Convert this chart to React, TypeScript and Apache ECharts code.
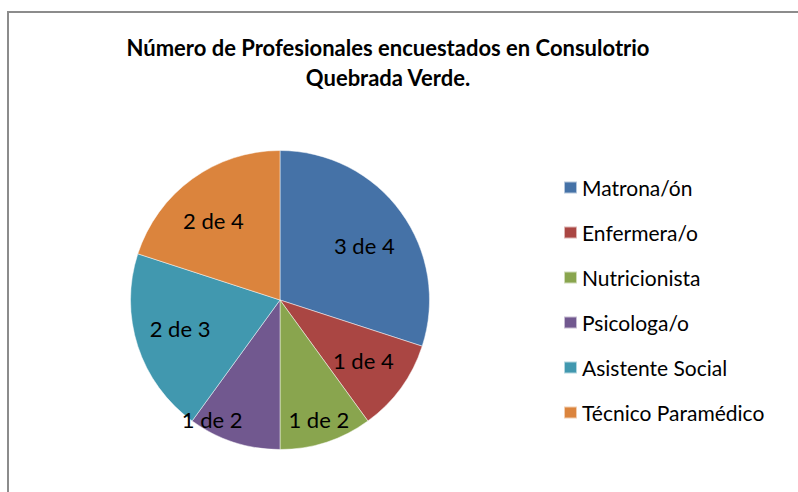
import React, { useEffect, useRef } from "react";
import * as echarts from "echarts";

const titleLines = ["Número de Profesionales encuestados en Consulotrio", "Quebrada Verde."];
const categories = ["Matrona/ón", "Enfermera/o", "Nutricionista", "Psicologa/o", "Asistente Social", "Técnico Paramédico"];
const encuestados = [3, 1, 1, 1, 2, 2];
const totales = [4, 4, 2, 2, 3, 4];
const colors = ["#4572A7", "#AA4643", "#89A54E", "#71588F", "#4198AF", "#DB843D"];

export default function App() {
  const ref = useRef<HTMLDivElement>(null);
  useEffect(() => {
    if (!ref.current) return;
    const chart = echarts.init(ref.current, null, { renderer: "svg" });
    const data = categories.map((name, i) => ({
      name,
      value: encuestados[i],
      itemStyle: { color: colors[i] },
    }));
    const labelData = categories.map((name, i) => ({
      name,
      value: encuestados[i],
      label: { formatter: `${encuestados[i]} de ${totales[i]}` },
    }));
    const labelShift: Record<number, { dx: number; dy: number }> = {
      0: { dx: 1, dy: 6 },
      2: { dx: 7, dy: 22 },
      3: { dx: -36, dy: 22 },
      4: { dx: -2, dy: -3 },
      5: { dx: -6, dy: 4 },
    };
    chart.setOption({
      animation: false,
      backgroundColor: "#ffffff",
      title: {
        text: titleLines.join("\n"),
        left: 383,
        top: 27,
        textAlign: "center",
        textStyle: {
          fontFamily: "Lato",
          fontWeight: "bold",
          fontSize: 22,
          lineHeight: 30,
          color: "#000",
        },
      },
      legend: {
        orient: "vertical",
        left: 558,
        top: 172,
        itemWidth: 13,
        itemHeight: 12,
        itemGap: 24,
        icon: "rect",
        data: categories,
        textStyle: { fontFamily: "Lato", fontSize: 21, lineHeight: 21, color: "#000" },
      },
      graphic: [
        {
          type: "polyline",
          shape: { points: [[8, 492], [8, 12], [798, 12]] },
          style: { stroke: "#8c8c8c", lineWidth: 2, fill: "none" },
          silent: true,
        },
      ],
      series: [
        {
          type: "pie",
          center: [280, 300],
          radius: [0, 149.5],
          startAngle: 90,
          clockwise: true,
          label: { show: false },
          labelLine: { show: false },
          itemStyle: { borderColor: "rgba(255,255,255,0.6)", borderWidth: 0.8 },
          emphasis: { disabled: true },
          data,
        },
        {
          type: "pie",
          center: [280, 300],
          radius: [0, 200],
          startAngle: 90,
          clockwise: true,
          silent: true,
          legendHoverLink: false,
          itemStyle: { color: "rgba(0,0,0,0)" },
          label: {
            show: true,
            position: "inside",
            fontFamily: "Lato",
            fontSize: 22,
            color: "#000",
          },
          labelLine: { show: false },
          labelLayout: (params: any) => labelShift[params.dataIndex] || {},
          emphasis: { disabled: true },
          data: labelData,
        },
      ],
    });
    return () => chart.dispose();
  }, []);
  return (
    <div
      ref={ref}
      style={{ position: "fixed", left: 0, top: 0, width: 798, height: 492 }}
    />
  );
}
